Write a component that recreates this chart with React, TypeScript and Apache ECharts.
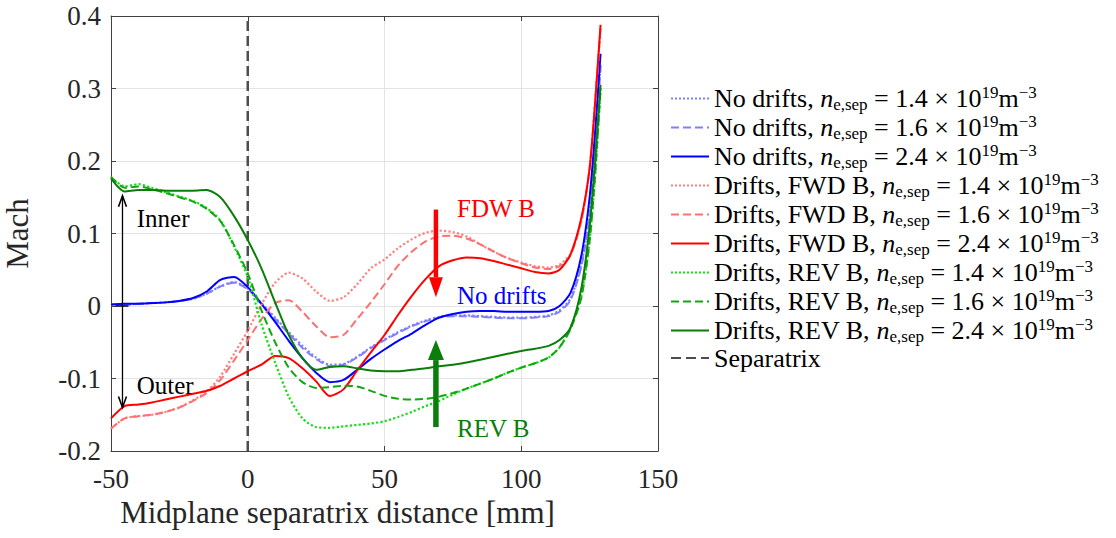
import React, { useEffect, useRef } from 'react';
import * as echarts from 'echarts';

// x positions (mm) shared by all profiles
const X = [-50, -45, -40, -35, -30, -25, -20, -15, -10, -5, 0, 5, 10, 15, 20, 25, 30, 35, 40, 45, 50, 55, 60, 65, 70, 75, 80, 85, 90, 95, 100, 105, 110, 114, 118, 122, 125, 127, 129];

const ND14 = [0.002, 0.002, 0.003, 0.004, 0.005, 0.007, 0.010, 0.017, 0.027, 0.033, 0.024, 0.004, -0.016, -0.036, -0.055, -0.071, -0.081, -0.080, -0.070, -0.057, -0.046, -0.036, -0.027, -0.020, -0.015, -0.013, -0.013, -0.014, -0.015, -0.016, -0.016, -0.015, -0.013, -0.006, 0.010, 0.058, 0.13, 0.22, 0.335];
const ND16 = [0.002, 0.002, 0.003, 0.004, 0.005, 0.007, 0.010, 0.017, 0.027, 0.032, 0.023, 0.003, -0.018, -0.038, -0.058, -0.073, -0.083, -0.081, -0.071, -0.058, -0.047, -0.037, -0.028, -0.021, -0.016, -0.014, -0.014, -0.015, -0.016, -0.017, -0.017, -0.016, -0.014, -0.008, 0.008, 0.055, 0.125, 0.215, 0.33];
const ND24 = [0.002, 0.003, 0.003, 0.004, 0.005, 0.007, 0.011, 0.020, 0.036, 0.040, 0.026, 0.003, -0.022, -0.048, -0.072, -0.092, -0.105, -0.102, -0.088, -0.073, -0.060, -0.048, -0.038, -0.026, -0.016, -0.011, -0.008, -0.007, -0.007, -0.008, -0.008, -0.008, -0.007, 0.000, 0.018, 0.070, 0.150, 0.240, 0.348];

const FWD14 = [-0.169, -0.155, -0.152, -0.150, -0.146, -0.140, -0.130, -0.118, -0.097, -0.066, -0.034, 0.002, 0.032, 0.046, 0.038, 0.020, 0.007, 0.012, 0.030, 0.052, 0.064, 0.080, 0.092, 0.101, 0.104, 0.102, 0.096, 0.085, 0.075, 0.066, 0.060, 0.055, 0.053, 0.057, 0.072, 0.118, 0.19, 0.28, 0.385];
const FWD16 = [-0.169, -0.155, -0.152, -0.150, -0.146, -0.140, -0.131, -0.120, -0.102, -0.075, -0.047, -0.018, 0.004, 0.008, -0.008, -0.028, -0.043, -0.040, -0.018, 0.005, 0.030, 0.056, 0.075, 0.089, 0.096, 0.097, 0.093, 0.085, 0.075, 0.066, 0.059, 0.053, 0.051, 0.055, 0.070, 0.118, 0.19, 0.28, 0.385];
const FWD24 = [-0.155, -0.138, -0.136, -0.133, -0.129, -0.125, -0.121, -0.117, -0.110, -0.100, -0.090, -0.081, -0.069, -0.072, -0.086, -0.104, -0.124, -0.115, -0.089, -0.064, -0.040, -0.012, 0.014, 0.037, 0.055, 0.063, 0.067, 0.066, 0.062, 0.057, 0.052, 0.047, 0.045, 0.050, 0.071, 0.122, 0.19, 0.28, 0.388];

const REV14 = [0.178, 0.165, 0.168, 0.163, 0.157, 0.151, 0.145, 0.135, 0.118, 0.082, 0.040, -0.025, -0.078, -0.125, -0.155, -0.167, -0.168, -0.166, -0.164, -0.162, -0.159, -0.153, -0.146, -0.138, -0.131, -0.122, -0.114, -0.107, -0.100, -0.092, -0.085, -0.079, -0.071, -0.057, -0.030, 0.015, 0.09, 0.18, 0.300];
const REV16 = [0.178, 0.163, 0.165, 0.161, 0.156, 0.150, 0.144, 0.134, 0.117, 0.084, 0.045, -0.006, -0.050, -0.085, -0.105, -0.113, -0.112, -0.110, -0.111, -0.117, -0.124, -0.128, -0.129, -0.128, -0.125, -0.120, -0.114, -0.107, -0.100, -0.092, -0.085, -0.079, -0.071, -0.057, -0.032, 0.012, 0.09, 0.18, 0.300];
const REV24 = [0.176, 0.158, 0.160, 0.160, 0.159, 0.159, 0.159, 0.160, 0.150, 0.124, 0.091, 0.052, 0.005, -0.040, -0.072, -0.088, -0.084, -0.083, -0.086, -0.089, -0.090, -0.090, -0.088, -0.086, -0.083, -0.081, -0.078, -0.074, -0.070, -0.066, -0.062, -0.059, -0.055, -0.047, -0.030, 0.025, 0.11, 0.20, 0.305];

const SEP_X = [0, 0];
const SEP_Y = [-0.2, 0.4];

const X_TICKS = [-50, 0, 50, 100, 150];
const Y_TICKS = [-0.2, -0.1, 0, 0.1, 0.2, 0.3, 0.4];

const PREFIXES = ['No drifts, ', 'No drifts, ', 'No drifts, ', 'Drifts, FWD B, ', 'Drifts, FWD B, ', 'Drifts, FWD B, ', 'Drifts, REV B, ', 'Drifts, REV B, ', 'Drifts, REV B, '];
const DENSITIES = ['1.4', '1.6', '2.4', '1.4', '1.6', '2.4', '1.4', '1.6', '2.4'];
const PROFILES = [ND14, ND16, ND24, FWD14, FWD16, FWD24, REV14, REV16, REV24];
const COLORS = ['#7f7fff', '#7f7fff', '#0000ff', '#ff8080', '#ff7070', '#ff0000', '#14e014', '#10a810', '#0a7d0a'];
const DASHES: any[] = ['dotted', [8, 4], 'solid', 'dotted', [8, 4], 'solid', 'dotted', [8, 4], 'solid'];

const SEP_NAME = 'Separatrix';

// annotation anchors in data coordinates
const FDW_LABEL = { x: 76.5, y: 0.135, text: 'FDW B', color: '#ff0000' };
const ND_LABEL = { x: 76.5, y: 0.015, text: 'No drifts', color: '#0000ff' };
const REV_LABEL = { x: 76.5, y: -0.1685, text: 'REV B', color: '#0a7d0a' };
const INNER_LABEL = { x: -40.6, y: 0.121, text: 'Inner', color: '#000000' };
const OUTER_LABEL = { x: -40.6, y: -0.109, text: 'Outer', color: '#000000' };
const RED_ARROW = { x: 68.8, y0: 0.133, y1: 0.012 };
const GREEN_ARROW = { x: 68.8, y0: -0.167, y1: -0.047 };
const DOUBLE_ARROW = { x: -45.8, y0: 0.152, y1: -0.140 };
const ZERO_MARK = { x0: -48.3, x1: -43.6, y: 0 };

const SERIF = 'Liberation Serif';

const seriesNames = PREFIXES.map((p, i) => `${p}n_e,sep = ${DENSITIES[i]} × 10^19 m^-3`);

export default function App() {
  const ref = useRef<HTMLDivElement>(null);
  useEffect(() => {
    document.body.style.margin = '0';
    if (!ref.current) return;
    const chart = echarts.init(ref.current, undefined, { renderer: 'svg' });

    const series: any[] = PROFILES.map((arr, i) => ({
      name: seriesNames[i],
      type: 'line',
      data: X.map((x, k) => [x, arr[k]]),
      showSymbol: false,
      symbol: 'none',
      smooth: 0.25,
      color: COLORS[i],
      lineStyle: { color: COLORS[i], width: DASHES[i] === 'dotted' ? 2.2 : 2, type: DASHES[i] },
      z: 3 + i,
    }));
    series.push({
      name: SEP_NAME,
      type: 'line',
      data: SEP_X.map((x, k) => [x, SEP_Y[k]]),
      showSymbol: false,
      symbol: 'none',
      color: '#4d4d4d',
      lineStyle: { color: '#4d4d4d', width: 2.5, type: [10, 5] },
      z: 2,
    });

    const nameIndex: Record<string, number> = {};
    seriesNames.forEach((n, i) => (nameIndex[n] = i));

    const axisColor = '#404040';
    const option: any = {
      animation: false,
      backgroundColor: '#ffffff',
      textStyle: { fontFamily: SERIF },
      grid: { left: 111, right: 458, top: 16, bottom: 87, containLabel: false, outerBoundsMode: 'none', show: false },
      xAxis: [
        {
          type: 'value', min: X_TICKS[0], max: X_TICKS[X_TICKS.length - 1], interval: 50,
          name: 'Midplane separatrix distance [mm]', nameLocation: 'middle', nameGap: 45,
          nameTextStyle: { fontFamily: SERIF, fontSize: 31, color: '#262626', padding: [0, 94, 0, 0] },
          axisLine: { show: true, onZero: false, lineStyle: { color: axisColor, width: 1 } },
          axisTick: { show: true, inside: true, length: 5, lineStyle: { color: axisColor } },
          axisLabel: { fontFamily: SERIF, fontSize: 27, color: '#262626', margin: 14 },
          splitLine: { show: true, lineStyle: { color: '#e3e3e3', width: 1 } },
        },
        {
          type: 'value', position: 'top', min: X_TICKS[0], max: X_TICKS[X_TICKS.length - 1], interval: 50,
          axisLine: { show: true, onZero: false, lineStyle: { color: axisColor, width: 1 } },
          axisTick: { show: true, inside: true, length: 5, lineStyle: { color: axisColor } },
          axisLabel: { show: false }, splitLine: { show: false },
        },
      ],
      yAxis: [
        {
          type: 'value', min: Y_TICKS[0], max: Y_TICKS[Y_TICKS.length - 1], interval: 0.1,
          name: 'Mach', nameLocation: 'middle', nameGap: 78,
          nameTextStyle: { fontFamily: SERIF, fontSize: 31, color: '#262626' },
          axisLine: { show: true, onZero: false, lineStyle: { color: axisColor, width: 1 } },
          axisTick: { show: true, inside: true, length: 5, lineStyle: { color: axisColor } },
          axisLabel: {
            fontFamily: SERIF, fontSize: 27, color: '#262626', margin: 10,
            formatter: (v: number) => { const r = Math.round(v * 10) / 10; return r === 0 ? '0' : r.toFixed(1); },
          },
          splitLine: { show: true, lineStyle: { color: '#e3e3e3', width: 1 } },
        },
        {
          type: 'value', position: 'right', min: Y_TICKS[0], max: Y_TICKS[Y_TICKS.length - 1], interval: 0.1,
          axisLine: { show: true, onZero: false, lineStyle: { color: axisColor, width: 1 } },
          axisTick: { show: true, inside: true, length: 5, lineStyle: { color: axisColor } },
          axisLabel: { show: false }, splitLine: { show: false },
        },
      ],
      legend: {
        orient: 'vertical', left: 670, top: 84, padding: 0, itemGap: 0,
        itemWidth: 38, itemHeight: 14,
        itemStyle: { opacity: 0, borderWidth: 0 },
        data: [...seriesNames, SEP_NAME],
        formatter: (name: string) => {
          const i = nameIndex[name];
          if (i === undefined) return `{t|${name}}`;
          return `{t|${PREFIXES[i]}}{i|n}{sub|e,sep}{t| = ${DENSITIES[i]} × 10}{sup|19}{t|m}{sup|−3}`;
        },
        textStyle: {
          fontFamily: SERIF, fontSize: 26, color: '#000',
          rich: {
            t: { fontFamily: SERIF, fontSize: 26, color: '#000', lineHeight: 29 },
            i: { fontFamily: SERIF, fontSize: 26, fontStyle: 'italic', color: '#000', lineHeight: 29 },
            sub: { fontFamily: SERIF, fontSize: 17, color: '#000', lineHeight: 16, verticalAlign: 'bottom' },
            sup: { fontFamily: SERIF, fontSize: 17, color: '#000', lineHeight: 16, verticalAlign: 'top' },
          },
        },
      },
      series,
    };
    chart.setOption(option);

    const P = (x: number, y: number) => chart.convertToPixel({ xAxisIndex: 0, yAxisIndex: 0 }, [x, y]) as number[];
    const label = (l: any) => {
      const p = P(l.x, l.y);
      return { type: 'text', x: p[0], y: p[1], z: 50, style: { text: l.text, fill: l.color, fontFamily: SERIF, fontSize: 25, textAlign: 'left', textVerticalAlign: 'middle' } };
    };
    const thickArrow = (a: any, color: string, shaft: number, headLen: number, headHalf: number) => {
      const s = P(a.x, a.y0);
      const e = P(a.x, a.y1);
      const dir = e[1] > s[1] ? 1 : -1;
      const baseY = e[1] - dir * headLen;
      return [
        { type: 'line', z: 40, shape: { x1: s[0], y1: s[1], x2: e[0], y2: baseY }, style: { stroke: color, lineWidth: shaft } },
        { type: 'polygon', z: 40, shape: { points: [[e[0] - headHalf, baseY], [e[0] + headHalf, baseY], [e[0], e[1]]] }, style: { fill: color } },
      ];
    };
    const da0 = P(DOUBLE_ARROW.x, DOUBLE_ARROW.y0);
    const da1 = P(DOUBLE_ARROW.x, DOUBLE_ARROW.y1);
    const zm0 = P(ZERO_MARK.x0, ZERO_MARK.y);
    const zm1 = P(ZERO_MARK.x1, ZERO_MARK.y);
    const graphic: any[] = [
      label(FDW_LABEL), label(ND_LABEL), label(REV_LABEL), label(INNER_LABEL), label(OUTER_LABEL),
      ...thickArrow(RED_ARROW, '#ff0000', 4.5, 20, 7),
      ...thickArrow(GREEN_ARROW, '#0a7d0a', 5.5, 20, 8),
      { type: 'line', z: 40, shape: { x1: da0[0], y1: da0[1], x2: da1[0], y2: da1[1] }, style: { stroke: '#000', lineWidth: 1.3 } },
      { type: 'polyline', z: 40, shape: { points: [[da0[0] - 4, da0[1] + 11], [da0[0], da0[1]], [da0[0] + 4, da0[1] + 11]] }, style: { stroke: '#000', lineWidth: 1.6, fill: null } },
      { type: 'polyline', z: 40, shape: { points: [[da1[0] - 4, da1[1] - 11], [da1[0], da1[1]], [da1[0] + 4, da1[1] - 11]] }, style: { stroke: '#000', lineWidth: 1.6, fill: null } },
      { type: 'line', z: 40, shape: { x1: zm0[0], y1: zm0[1], x2: zm1[0], y2: zm1[1] }, style: { stroke: '#000', lineWidth: 1.5 } },
    ];
    chart.setOption({ graphic });

    return () => chart.dispose();
  }, []);
  return <div ref={ref} style={{ width: 1116, height: 538 }} />;
}
